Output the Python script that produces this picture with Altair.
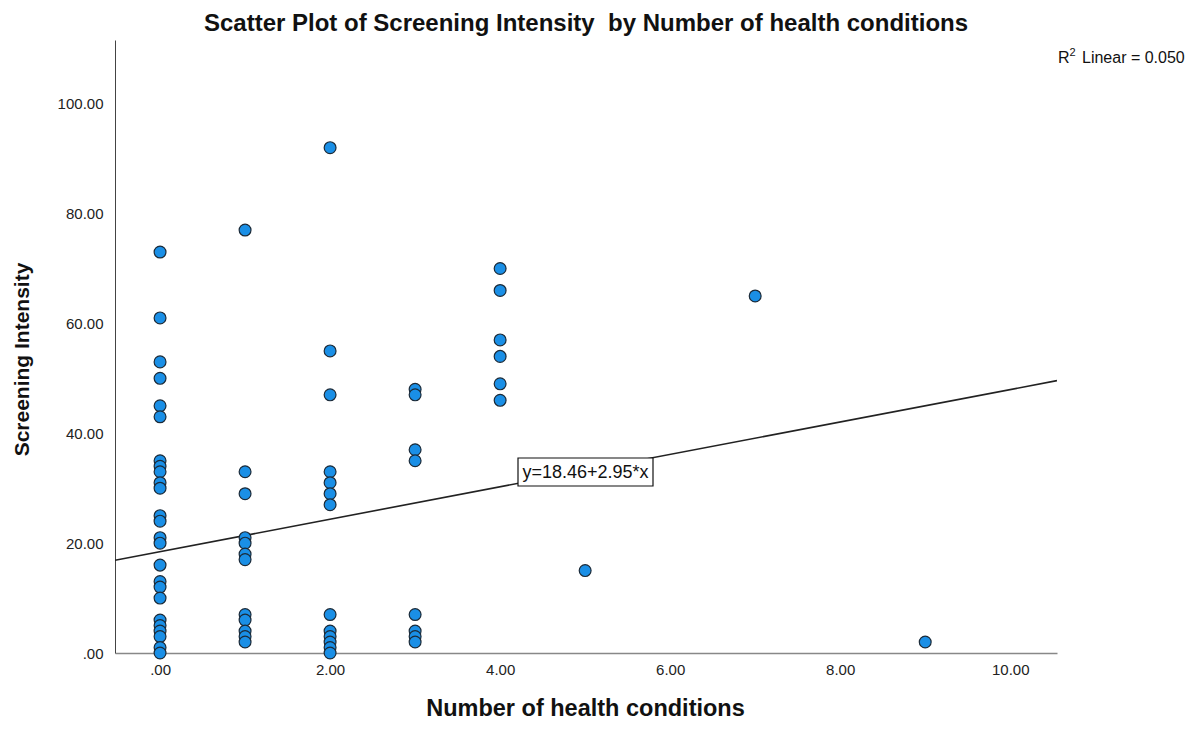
import altair as alt
import pandas as pd

# ---- data ----
x_vals = (
    [0] * 25 + [1] * 12 + [2] * 13 + [3] * 8 + [4] * 6 + [5, 7, 9]
)
y_vals = (
    [73, 61, 53, 50, 45, 43, 35, 34, 33, 31, 30, 25, 24, 21, 20, 16, 13, 12, 10, 6, 5, 4, 3, 1, 0]
    + [77, 33, 29, 21, 20, 18, 17, 7, 6, 4, 3, 2]
    + [92, 55, 47, 33, 31, 29, 27, 7, 4, 3, 2, 1, 0]
    + [48, 47, 37, 35, 7, 4, 3, 2]
    + [70, 66, 57, 54, 49, 46]
    + [15, 65, 2]
)
intercept = 18.46
slope = 2.95
r2_parts = ["R", "2", "Linear = 0.050"]
eq_text = "y=18.46+2.95*x"
x_ticks = [0, 2, 4, 6, 8, 10]
y_ticks = [0, 20, 40, 60, 80, 100]
x_domain = [-0.53, 10.55]
y_domain = [0, 111.6]
title_text = "Scatter Plot of Screening Intensity\u00a0\u00a0by Number of health conditions"

pts = pd.DataFrame({"x": x_vals, "y": y_vals})
line_df = pd.DataFrame({"x": x_domain})

FONT = "Liberation Sans"
label_expr = "datum.value == 0 ? '.00' : format(datum.value, '.2f')"

xs = alt.Scale(domain=x_domain, nice=False, zero=False)
ys = alt.Scale(domain=y_domain, nice=False, zero=False)

x_axis = alt.Axis(
    values=x_ticks, labelExpr=label_expr, ticks=False, grid=False,
    domainColor="#888888", domainWidth=1.5, labelFont=FONT, labelFontSize=15,
    labelColor="#222222", labelPadding=9,
    title="Number of health conditions", titleFont=FONT, titleFontSize=23.5,
    titleFontWeight="bold", titleColor="#111111",
    titleX=470, titleY=62, titleBaseline="alphabetic", titleAlign="center",
)
y_axis = alt.Axis(
    values=y_ticks, labelExpr=label_expr, ticks=False, grid=False,
    domainColor="#444444", domainWidth=1, labelFont=FONT, labelFontSize=15,
    labelColor="#222222", labelPadding=12,
    title="Screening Intensity", titleFont=FONT, titleFontSize=21,
    titleFontWeight="bold", titleColor="#111111",
    titleX=-93, titleY=319, titleAngle=270, titleBaseline="middle", titleAlign="center",
)

points = alt.Chart(pts).mark_point(
    shape="circle", filled=True, size=140, fill="#1a8fe6", stroke="#1b2a38",
    strokeWidth=1.2, opacity=1,
).encode(
    x=alt.X("x:Q", scale=xs, axis=x_axis),
    y=alt.Y("y:Q", scale=ys, axis=y_axis),
)

fit = alt.Chart(line_df).transform_calculate(
    yfit=f"{intercept} + {slope} * datum.x"
).mark_line(color="#222222", strokeWidth=1.6, clip=True).encode(
    x=alt.X("x:Q", scale=xs),
    y=alt.Y("yfit:Q", scale=ys),
)

box = alt.Chart(pd.DataFrame({"t": [eq_text]})).mark_rect(
    fill="white", stroke="#111111", strokeWidth=1.2
).encode(
    x=alt.value(403), x2=alt.value(538), y=alt.value(418), y2=alt.value(446)
)
eq = alt.Chart(pd.DataFrame({"t": [eq_text]})).mark_text(
    font=FONT, fontSize=18, color="#111111", align="center", baseline="middle"
).encode(x=alt.value(470.5), y=alt.value(432.5), text="t:N")

r2_r = alt.Chart(pd.DataFrame({"t": [r2_parts[0]]})).mark_text(
    font=FONT, fontSize=16, color="#111111", align="left", baseline="alphabetic"
).encode(x=alt.value(943), y=alt.value(23), text="t:N")
r2_sup = alt.Chart(pd.DataFrame({"t": [r2_parts[1]]})).mark_text(
    font=FONT, fontSize=11, color="#111111", align="left", baseline="alphabetic"
).encode(x=alt.value(954.5), y=alt.value(16), text="t:N")
r2_rest = alt.Chart(pd.DataFrame({"t": [r2_parts[2]]})).mark_text(
    font=FONT, fontSize=16, color="#111111", align="left", baseline="alphabetic"
).encode(x=alt.value(967), y=alt.value(23), text="t:N")

chart = alt.layer(fit, points, box, eq, r2_r, r2_sup, r2_rest).properties(
    width=942, height=613,
    background="white",
    title=alt.TitleParams(
        title_text,
        font=FONT, fontSize=24, fontWeight="bold", color="#111111",
        anchor="middle", offset=4,
    ),
    padding={"left": 107, "top": 32, "right": 130, "bottom": 68},
    autosize=alt.AutoSizeParams(type="none"),
).configure_view(strokeWidth=0, stroke=None)

chart.save("out.html", embed_options={"renderer": "svg", "actions": False})
